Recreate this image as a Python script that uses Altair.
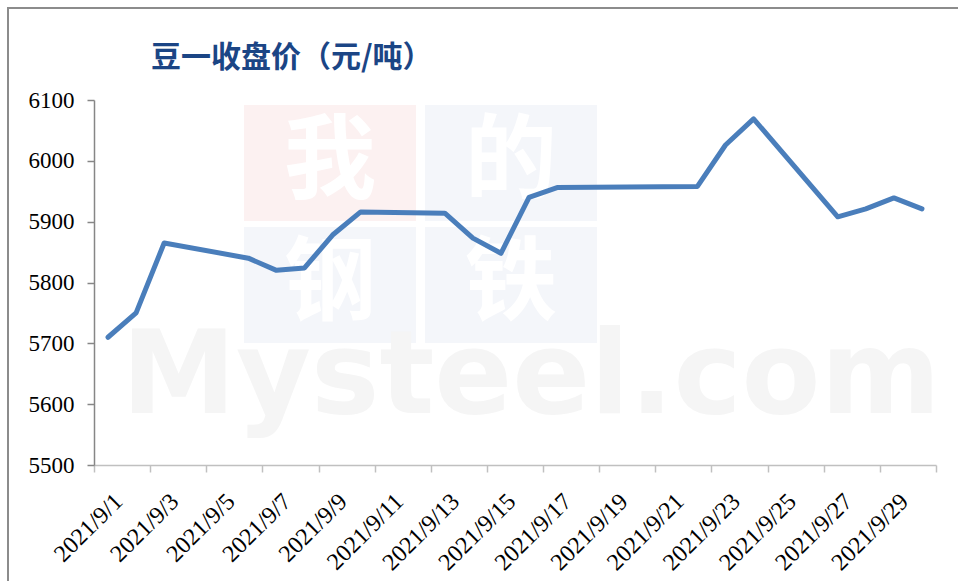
import altair as alt
import pandas as pd

# ---- data ----
dates = ["2021/9/1", "2021/9/2", "2021/9/3", "2021/9/6", "2021/9/7", "2021/9/8",
         "2021/9/9", "2021/9/10", "2021/9/13", "2021/9/14", "2021/9/15", "2021/9/16",
         "2021/9/17", "2021/9/22", "2021/9/23", "2021/9/24", "2021/9/27", "2021/9/28",
         "2021/9/29", "2021/9/30"]
prices = [5710, 5750, 5865, 5840, 5820, 5824, 5878, 5916, 5914, 5873, 5848, 5940,
          5956, 5958, 6026, 6069, 5908, 5921, 5939, 5921]
y_ticks = [5500, 5600, 5700, 5800, 5900, 6000, 6100]
title_text = "豆一收盘价（元/吨）"
wm_chars = ["我", "的", "钢", "铁"]
wm_word = "Mysteel.com"

df = pd.DataFrame({"date": dates, "price": prices})
df["day"] = df["date"].str.split("/").str[2].astype(int)

# x axis: ticks at day boundaries every 2 days, labels at odd-day centres
x_vals = []
for d in range(1, 31, 2):
    x_vals.append(d - 0.5)
    x_vals.append(d)
x_vals.append(30.5)

one = pd.DataFrame({"k": [0]})

def deco_rect(x, x2, y, y2, **kw):
    return alt.Chart(one).mark_rect(**kw).encode(
        x=alt.value(x), x2=alt.value(x2), y=alt.value(y), y2=alt.value(y2))

def deco_text(txt, x, y, **kw):
    return alt.Chart(one).mark_text(text=txt, **kw).encode(
        x=alt.value(x), y=alt.value(y))

border = deco_rect(-86, 1000, -92, 700, fillOpacity=0, stroke="#8C8C8C", strokeWidth=2)

wm_boxes = [
    deco_rect(150, 322, 5, 121, fill="#FCF1F1"),
    deco_rect(331, 503, 5, 121, fill="#F4F6FA"),
    deco_rect(150, 322, 127, 243, fill="#F4F6FA"),
    deco_rect(331, 503, 127, 243, fill="#F4F6FA"),
]
centers = [(236, 63), (417, 63), (236, 185), (417, 185)]
wm_texts = [
    deco_text(c, cx, cy, font="Noto Sans CJK SC", fontSize=92, fontWeight="bold",
              color="white", align="center", baseline="middle")
    for c, (cx, cy) in zip(wm_chars, centers)
]
wm_big = deco_text(wm_word, 437, 313, font="DejaVu Sans", fontSize=115, fontWeight="bold",
                   color="#F5F5F5", align="center", baseline="alphabetic")

line = alt.Chart(df).mark_line(color="#4A7EBB", strokeWidth=5, strokeJoin="round",
                               strokeCap="round").encode(
    x=alt.X("day:Q",
            scale=alt.Scale(domain=[0.5, 30.5], nice=False, zero=False),
            axis=alt.Axis(values=x_vals, title=None, grid=False,
                          domainColor="#C0C0C0", domainWidth=1.5,
                          tickColor="#C0C0C0", tickWidth=1.5, tickSize=7,
                          tickOpacity={"condition": {"test": "datum.value % 1 === 0", "value": 0}, "value": 1},
                          labelExpr="datum.value % 1 === 0 ? '2021/9/' + datum.value : ''",
                          labelAngle=-45, labelAlign="right", labelBaseline="top",
                          labelFont="Liberation Serif", labelFontSize=24, labelColor="black",
                          labelPadding=17, labelOffset=2,
                          labelOverlap=False, labelBound=False, labelFlush=False)),
    y=alt.Y("price:Q",
            scale=alt.Scale(domain=[5500, 6100], nice=False, zero=False),
            axis=alt.Axis(values=y_ticks, title=None, grid=False, format="d",
                          domainColor="#868686", domainWidth=1.5,
                          tickColor="#868686", tickWidth=1.5, tickSize=7,
                          labelPadding=13, labelFont="Liberation Serif",
                          labelFontSize=23, labelColor="black")),
)

title = deco_text(title_text, 57, -42, font="Noto Sans CJK SC", fontSize=30,
                  fontWeight="bold", color="#1B4585", align="left", baseline="middle")

chart = alt.layer(border, *wm_boxes, *wm_texts, wm_big, line, title).properties(
    width=842, height=365,
    autosize=alt.AutoSizeParams(type="none"),
    padding={"left": 94, "top": 100, "right": 22, "bottom": 116},
    background="white",
).configure_view(strokeWidth=0)

chart.save("out.html", embed_options={"renderer": "svg", "actions": False})
